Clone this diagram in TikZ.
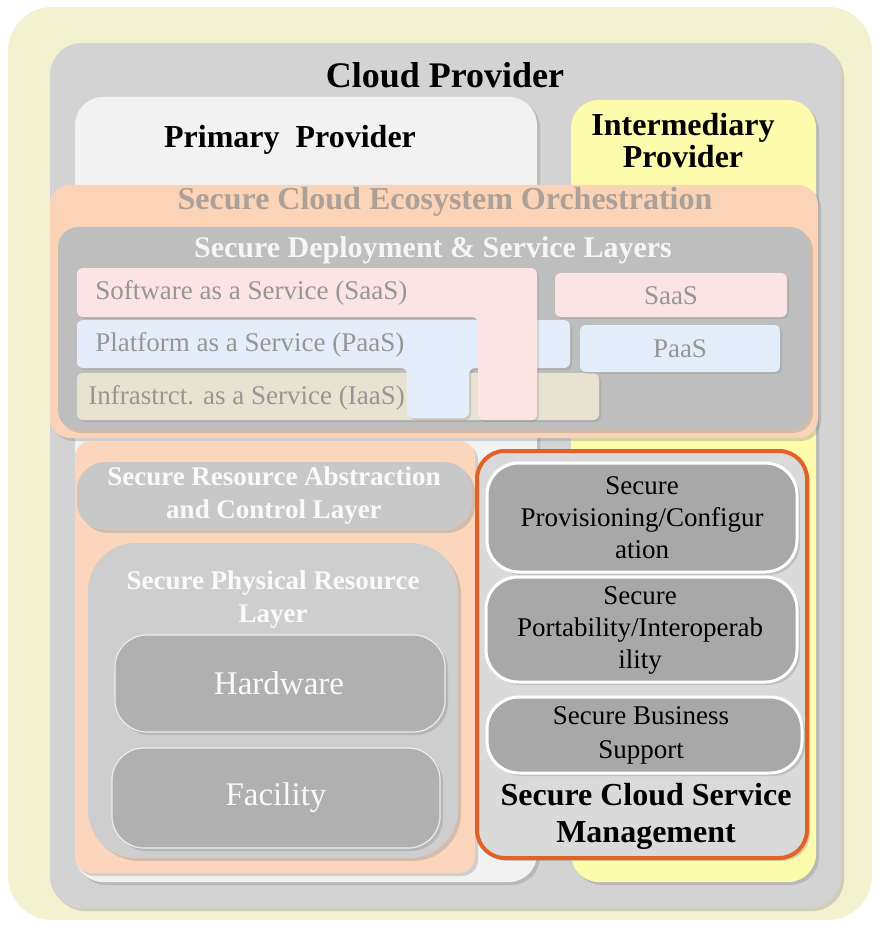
\documentclass[tikz,border=0pt]{standalone}
\usepackage{fontspec}
\setmainfont{Liberation Serif}
\usepackage{tikz}
\usetikzlibrary{shadows}
\definecolor{bgyellow}{RGB}{242,241,208}
\definecolor{cloudgray}{RGB}{211,211,211}
\definecolor{primwhite}{RGB}{242,242,242}
\definecolor{interyellow}{RGB}{253,251,172}
\definecolor{orchpeach}{RGB}{251,212,184}
\definecolor{orchtext}{RGB}{172,160,152}
\definecolor{deploygray}{RGB}{190,190,190}
\definecolor{saaspink}{RGB}{252,228,228}
\definecolor{paasblue}{RGB}{228,238,250}
\definecolor{iaasbeige}{RGB}{232,226,208}
\definecolor{bartextgray}{RGB}{150,150,150}
\definecolor{lowpeach}{RGB}{251,214,188}
\definecolor{absgray}{RGB}{200,200,200}
\definecolor{physgray}{RGB}{206,206,206}
\definecolor{hwgray}{RGB}{176,176,176}
\definecolor{mgmtgray}{RGB}{218,218,218}
\definecolor{mgmtorange}{RGB}{224,98,40}
\definecolor{boxgray}{RGB}{168,168,168}
\tikzstyle{panel} = [drop shadow={shadow xshift=1.5pt, shadow yshift=-1.5pt, opacity=0.3}]
\tikzstyle{bar} = [rounded corners=3pt, drop shadow={shadow xshift=1pt, shadow yshift=-1pt, opacity=0.25}]
\tikzstyle{mgmtbox} = [panel, rounded corners=16pt, fill=boxgray, draw=white, line width=1.5pt]
\tikzstyle{hwbox} = [panel, rounded corners=16pt, fill=hwgray, draw=white!85!gray, line width=0.6pt]
\tikzstyle{heading} = [inner sep=0pt, align=center, font=\bfseries\fontsize{16}{16}\selectfont]
\tikzstyle{layertext} = [inner sep=0pt, align=center, text=white!96!gray, font=\bfseries\fontsize{13.5}{16.5}\selectfont]
\tikzstyle{bartext} = [inner sep=0pt, anchor=west, text=bartextgray, font=\fontsize{13.5}{15}\selectfont]
\tikzstyle{mgmttext} = [inner sep=0pt, align=center, font=\fontsize{13.5}{16}\selectfont]

\begin{document}
\begin{tikzpicture}[x=0.5pt, y=-0.5pt]
\useasboundingbox (0,0) rectangle (878,925);
\fill[bgyellow, rounded corners=22pt] (8,7) rectangle (872,920);
\path[panel, rounded corners=16pt, fill=cloudgray] (50,43) rectangle (841,908);
\path[panel, rounded corners=14pt, fill=primwhite] (75,97) rectangle (537,882);
\path[panel, rounded corners=14pt, fill=interyellow] (571,100) rectangle (816,882);
\node (cloud) [heading, font=\bfseries\fontsize{18}{18}\selectfont] at (445,75) {Cloud Provider};
\node (primary) [heading] at (290,140) {Primary\ \ Provider};
\node (inter) [heading] at (683,141) {Intermediary\\Provider};

\path[panel, rounded corners=10pt, fill=orchpeach] (50,185) rectangle (818,438);
\node (orch) [heading, text=orchtext] at (445,202) {Secure Cloud Ecosystem Orchestration};
\path[panel, rounded corners=10pt, fill=deploygray] (58,227) rectangle (810,430);
\node (deploy) [heading, text=white!93!gray, font=\bfseries\fontsize{15}{15}\selectfont] at (433,250) {Secure Deployment \& Service Layers};

\path[bar, fill=iaasbeige] (77,373) rectangle (599,420);
\node (iaas) [bartext] at (88,398) {Infrastrct. as a Service (IaaS)};
\path[bar, fill=paasblue] (77,320) -- (570,320) -- (570,368) -- (469,368) -- (469,418) -- (407,418) -- (407,368) -- (77,368) -- cycle;
\node (paas) [bartext] at (95,345) {Platform as a Service (PaaS)};
\path[bar, fill=saaspink] (77,268) -- (537,268) -- (537,420) -- (478,420) -- (478,317) -- (77,317) -- cycle;
\node (saas) [bartext] at (95,293) {Software as a Service (SaaS)};
\path[bar, fill=saaspink] (555,273) rectangle (787,317);
\node (saasi) [bartext, anchor=center] at (671,296) {SaaS};
\path[bar, fill=paasblue] (580,325) rectangle (780,372);
\node (paasi) [bartext, anchor=center] at (680,349) {PaaS};

\path[panel, rounded corners=8pt, fill=lowpeach] (75,441) rectangle (475,873);
\path[panel, rounded corners=14pt, fill=absgray] (77,462) rectangle (472,530);
\node (abstract) [layertext] at (274,496) {Secure Resource Abstraction\\and Control Layer};
\path[panel, rounded corners=24pt, fill=physgray] (88,543) rectangle (458,858);
\node (physical) [layertext] at (273,600) {Secure Physical Resource\\Layer};
\path[hwbox] (115,635) rectangle (445,732);
\node (hardware) [inner sep=0pt, text=white!96!gray, font=\fontsize{16.5}{16.5}\selectfont] at (279,683) {Hardware};
\path[hwbox] (112,748) rectangle (440,848);
\node (facility) [inner sep=0pt, text=white!96!gray, font=\fontsize{16.5}{16.5}\selectfont] at (276,798) {Facility};

\path[panel, rounded corners=14pt, fill=mgmtgray, draw=mgmtorange, line width=2pt] (477,451) rectangle (807,858);
\path[mgmtbox] (487,463) rectangle (797,572);
\node (provision) [mgmttext] at (642,518) {Secure\\Provisioning/Configur\\ation};
\path[mgmtbox] (486,577) rectangle (797,682);
\node (portable) [mgmttext] at (640,630) {Secure\\Portability/Interoperab\\ility};
\path[mgmtbox] (487,697) rectangle (802,773);
\node (business) [mgmttext, font=\fontsize{13.5}{17}\selectfont] at (641,735) {Secure Business\\Support};
\node (mgmt) [heading, font=\bfseries\fontsize{16}{18.5}\selectfont] at (646,816) {Secure Cloud Service\\Management};
\end{tikzpicture}
\end{document}
